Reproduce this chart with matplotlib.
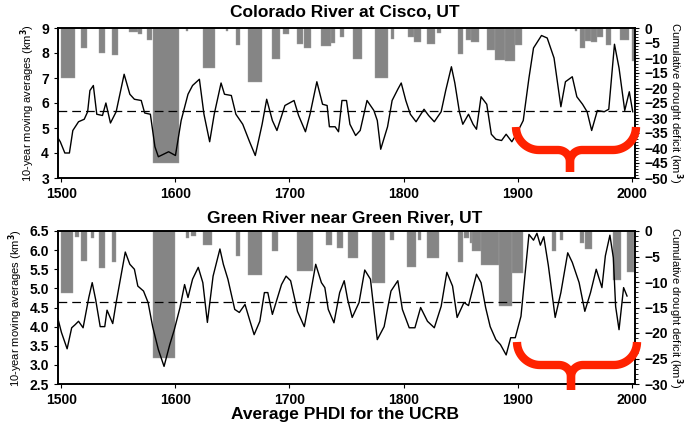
import numpy as np
import matplotlib
matplotlib.use('Agg')
import matplotlib.pyplot as plt
from matplotlib.lines import Line2D
from matplotlib.ticker import MultipleLocator, FormatStrFormatter

plt.rcParams['font.family'] = ['Liberation Sans', 'DejaVu Sans']
plt.rcParams['font.weight'] = 'bold'

# Colorado River at Cisco: 10-year moving average (km3)
co_years = [1497, 1499, 1503, 1507, 1510, 1515, 1520, 1523, 1525, 1528, 1531, 1536, 1539, 1543, 1548,
            1555, 1560, 1564, 1570, 1573, 1578, 1582, 1585, 1594, 1600, 1605, 1611, 1615, 1621, 1625,
            1630, 1634, 1640, 1643, 1649, 1653, 1659, 1665, 1670, 1676, 1680, 1685, 1689, 1696, 1704,
            1708, 1714, 1718, 1724, 1729, 1733, 1735, 1740, 1743, 1746, 1750, 1753, 1758, 1762, 1768,
            1774, 1777, 1780, 1786, 1790, 1795, 1798, 1802, 1806, 1811, 1818, 1822, 1827, 1833, 1837,
            1842, 1845, 1849, 1852, 1857, 1861, 1864, 1868, 1873, 1877, 1881, 1886, 1890, 1895, 1899,
            1905, 1910, 1914, 1921, 1926, 1932, 1938, 1942, 1948, 1952, 1957, 1961, 1965, 1970, 1976,
            1980, 1985, 1989, 1994, 1998, 2001]
co_vals = [4.6, 4.45, 4.0, 4.0, 4.9, 5.25, 5.35, 5.65, 6.5, 6.7, 5.55, 5.5, 6.0, 5.2, 5.65,
           7.15, 6.35, 6.15, 6.1, 5.6, 5.55, 4.25, 3.85, 4.05, 3.9, 5.3, 6.35, 6.7, 6.95, 5.55,
           4.45, 5.55, 6.8, 6.35, 6.3, 5.55, 5.15, 4.45, 3.9, 5.15, 6.15, 5.3, 4.9, 5.9, 6.1,
           5.5, 4.85, 5.55, 6.85, 5.95, 5.9, 5.05, 5.05, 4.85, 6.1, 6.1, 5.15, 4.7, 4.9, 6.1,
           5.7, 5.3, 4.15, 5.05, 6.1, 6.55, 6.8, 6.1, 5.55, 5.25, 5.75, 5.5, 5.25, 5.65, 6.5,
           7.45, 6.8, 5.65, 5.15, 5.55, 5.15, 4.95, 6.25, 5.95, 4.75, 4.55, 4.5, 4.75, 4.45, 4.75,
           5.3, 7.0, 8.2, 8.7, 8.6, 7.8, 5.85, 6.85, 7.05, 6.25, 5.95, 5.65, 4.9, 5.7, 5.65,
           5.75, 8.35, 7.4, 5.7, 6.45, 5.65]
co_mean = 5.68

# Colorado drought deficit bars: start, end, depth (km3)
co_bar_start = [1500, 1517, 1533, 1544, 1559, 1567, 1575, 1580, 1609, 1624, 1644, 1653, 1664, 1685, 1694,
                1707, 1713, 1728, 1736, 1744, 1756, 1775, 1789, 1804, 1809, 1821, 1829, 1848, 1855, 1859,
                1873, 1880, 1889, 1898, 1950, 1955, 1959, 1964, 1970, 1978, 1990, 2000]
co_bar_end = [1512, 1522, 1538, 1550, 1567, 1571, 1579, 1603, 1611, 1635, 1646, 1657, 1676, 1692, 1700,
              1712, 1719, 1736, 1740, 1748, 1764, 1786, 1792, 1809, 1815, 1828, 1833, 1852, 1859, 1866,
              1880, 1889, 1898, 1904, 1952, 1959, 1964, 1970, 1975, 1982, 1998, 2007]
co_bar_depth = [16.8, 6.6, 8.4, 9, 1.4, 2, 4, 45, 1, 13.3, 1, 5.7, 18, 10.3, 2,
                5.3, 6.7, 6, 5, 3, 10.3, 16.6, 3.5, 3, 4.5, 5.2, 1.5, 8.7, 4, 4.5,
                7.2, 10.7, 11, 5.5, 1, 6.6, 4.3, 4.5, 3, 5.7, 4, 11]

# Green River near Green River: 10-year moving average (km3)
gr_years = [1497, 1500, 1505, 1509, 1512, 1515, 1519, 1524, 1527, 1530, 1534, 1538, 1540, 1545, 1548,
            1556, 1560, 1564, 1567, 1572, 1576, 1580, 1585, 1590, 1595, 1599, 1604, 1608, 1611, 1615,
            1620, 1624, 1628, 1633, 1639, 1642, 1646, 1652, 1656, 1661, 1665, 1669, 1674, 1678, 1681,
            1685, 1693, 1697, 1701, 1707, 1713, 1717, 1723, 1728, 1731, 1734, 1739, 1744, 1748, 1751,
            1755, 1761, 1766, 1771, 1777, 1783, 1789, 1795, 1799, 1805, 1810, 1815, 1821, 1827, 1833,
            1838, 1843, 1847, 1853, 1857, 1864, 1868, 1872, 1876, 1881, 1885, 1890, 1894, 1898, 1903,
            1907, 1910, 1914, 1917, 1920, 1923, 1927, 1933, 1938, 1944, 1948, 1954, 1959, 1964, 1969,
            1974, 1977, 1981, 1984, 1986, 1989, 1993, 1996]
gr_vals = [4.2, 3.85, 3.42, 3.97, 4.05, 4.14, 3.97, 4.76, 5.15, 4.71, 4.0, 4.0, 4.43, 4.08, 4.63,
           5.95, 5.63, 5.5, 5.06, 4.93, 4.63, 4.0, 3.4, 2.96, 3.53, 3.92, 4.5, 5.1, 4.76, 5.24,
           5.55, 5.15, 4.11, 5.32, 6.03, 5.63, 5.24, 4.45, 4.37, 4.58, 4.18, 3.79, 4.14, 4.89, 4.89,
           4.32, 5.1, 5.32, 5.2, 4.4, 4.0, 4.63, 5.63, 5.15, 5.02, 4.45, 4.1, 4.89, 5.2, 4.71,
           4.24, 4.63, 5.48, 5.24, 3.66, 4.0, 4.93, 5.2, 4.45, 3.97, 3.97, 4.5, 4.14, 3.97, 4.53,
           5.42, 5.06, 4.24, 4.63, 4.55, 5.37, 5.15, 4.5, 4.0, 3.66, 3.53, 3.26, 3.71, 3.71, 4.27,
           5.5, 6.41, 6.26, 6.44, 6.13, 6.35, 5.6, 4.24, 4.89, 5.93, 5.68, 5.15, 4.4, 4.89, 5.5,
           5.02, 5.85, 6.39, 5.8, 4.53, 3.92, 5.02, 4.8]
gr_mean = 4.65

# Green River drought deficit bars
gr_bar_start = [1500, 1512, 1517, 1526, 1533, 1544, 1580, 1609, 1614, 1624, 1653, 1664, 1685, 1707, 1732,
                1742, 1751, 1772, 1788, 1803, 1813, 1821, 1848, 1853, 1858, 1860, 1868, 1884, 1895, 1930,
                1937, 1955, 1959, 1984, 1996]
gr_bar_end = [1510, 1515, 1522, 1529, 1538, 1548, 1600, 1612, 1618, 1632, 1657, 1676, 1690, 1721, 1737,
              1747, 1760, 1784, 1792, 1811, 1815, 1831, 1852, 1857, 1860, 1868, 1884, 1895, 1905, 1934,
              1940, 1958, 1965, 1991, 2002]
gr_bar_depth = [12.2, 1.1, 5.9, 1.3, 7.2, 6, 24.9, 1.3, 1, 2.8, 4.9, 8.7, 3.9, 7.8, 2.8,
                3.4, 5.3, 10.2, 1.8, 7, 1.8, 5.3, 6.1, 1.3, 2.3, 4, 6.7, 14.8, 8.3, 4,
                1.8, 2.4, 3.5, 9.7, 8.1]

W, H = 689, 430
fig = plt.figure(figsize=(W / 100, H / 100), dpi=100)


def rect(left, top, right, bottom):
    return [left / W, 1 - bottom / H, (right - left) / W, (bottom - top) / H]


def panel(box, years, vals, mean, bs, be, bd, ylim, ystep, fmt, rlim, title, ty):
    ax = fig.add_axes(box)
    ax2 = ax.twinx()
    ax.set_zorder(ax2.get_zorder() + 1)
    ax.patch.set_visible(False)
    ax2.bar(bs, -np.array(bd), width=np.array(be) - np.array(bs), align='edge',
            color='#858585', edgecolor='#a0a0a0', linewidth=0.3)
    ax2.set_ylim(rlim, 0)
    ax2.yaxis.set_major_locator(MultipleLocator(5))
    ax2.yaxis.set_minor_locator(MultipleLocator(1))
    ax2.set_ylabel('Cumulative drought deficit (km$^3$)', rotation=-90, labelpad=12, fontsize=8)
    ax.plot(years, vals, color='black', lw=1.0)
    ax.axhline(mean, color='black', lw=0.9, dashes=(7, 4))
    ax.set_xlim(1497, 2003)
    ax.set_ylim(*ylim)
    ax.yaxis.set_major_locator(MultipleLocator(ystep))
    ax.yaxis.set_major_formatter(FormatStrFormatter(fmt))
    ax.xaxis.set_major_locator(MultipleLocator(100))
    ax.set_ylabel('10-year moving averages (km$^3$)', fontsize=8, labelpad=3)
    for a in (ax, ax2):
        a.tick_params(labelsize=10, length=3)
        a.tick_params(which='minor', length=2)
        for s in a.spines.values():
            s.set_linewidth(1.2)
    fig.text(345 / W, 1 - ty / H, title, ha='center', va='center', fontsize=12.5, fontweight='bold')
    return ax


panel(rect(58, 28, 635, 178), co_years, co_vals, co_mean, co_bar_start, co_bar_end, co_bar_depth,
      (3, 9), 1, '%d', -50, 'Colorado River at Cisco, UT', 12)
panel(rect(58, 231, 635, 384), gr_years, gr_vals, gr_mean, gr_bar_start, gr_bar_end, gr_bar_depth,
      (2.5, 6.5), 0.5, '%.1f', -30, 'Green River near Green River, UT', 218)

fig.text(345 / W, 1 - 414 / H, 'Average PHDI for the UCRB', ha='center', va='center',
         fontsize=12.5, fontweight='bold')


def brace(x0, x1, ytop, ymid, ytip):
    xc = (x0 + x1) / 2 - 6
    r = ymid - ytop
    t = np.linspace(0, np.pi / 2, 20)
    lx = list(x0 + r * (1 - np.cos(t)))
    ly = list(ytop + r * np.sin(t))
    px = lx + [xc - 12] + [xc - 12 + 12 * np.sin(a) for a in t] + [xc]
    py = ly + [ymid] + [ymid + 12 * (1 - np.cos(a)) for a in t] + [ytip]
    qx = [xc] + [xc + 12 - 12 * np.sin(a) for a in t[::-1]] + [x1 - r] + list(x1 - r * (1 - np.cos(t[::-1])))
    qy = [ytip] + [ymid + 12 * (1 - np.cos(a)) for a in t[::-1]] + [ymid] + list(ytop + r * np.sin(t[::-1]))
    for xs, ys in ((px, py), (qx, qy)):
        fig.add_artist(Line2D(np.array(xs) / W, 1 - np.array(ys) / H, color='#ff2200', lw=6,
                              solid_capstyle='butt', solid_joinstyle='round'))


brace(516, 636, 127, 150, 172)
brace(517, 637, 342, 365, 390)

fig.savefig('out.png', dpi=100)
